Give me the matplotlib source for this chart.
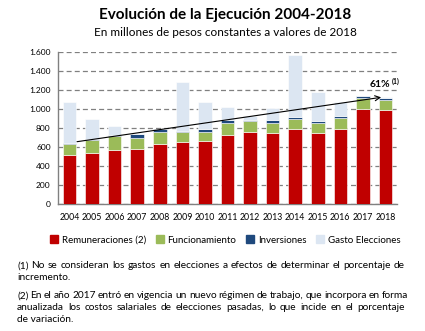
import matplotlib
matplotlib.use("Agg")
import matplotlib.pyplot as plt
import matplotlib.patches as mpatches
import numpy as np

plt.rcParams["font.family"] = ["Lato", "DejaVu Sans"]

years = ["2004", "2005", "2006", "2007", "2008", "2009", "2010", "2011",
         "2012", "2013", "2014", "2015", "2016", "2017", "2018"]
remuneraciones = [523, 544, 575, 586, 632, 656, 667, 733, 765, 747, 796, 754, 789, 1007, 989]
funcionamiento = [112, 130, 141, 112, 126, 102, 98, 127, 109, 113, 106, 102, 116, 109, 109]
inversiones = [15, 14, 17, 39, 35, 14, 24, 24, 14, 24, 21, 25, 25, 24, 18]
gasto_elecciones = [431, 207, 88, 17, 0, 519, 292, 141, 40, 134, 649, 305, 144, 0, 10]

series = [
    ("Remuneraciones (2)", remuneraciones, "#C00000"),
    ("Funcionamiento", funcionamiento, "#9BBB59"),
    ("Inversiones", inversiones, "#1F497D"),
    ("Gasto Elecciones", gasto_elecciones, "#DCE6F2"),
]

# trend arrow: start/end (x position, value)
trend_start = (0.33, 659)
trend_end = (13.81, 1126)
trend_label = "61%"

notes = [
    ("(1)  No se consideran los gastos en elecciones a efectos de determinar el porcentaje de", True),
    ("incremento.", False),
    ("(2)  En el año 2017 entró en vigencia un nuevo régimen de trabajo, que incorpora en forma", True),
    ("anualizada los costos salariales de elecciones pasadas, lo que incide en el porcentaje", True),
    ("de variación.", False),
]
note_rows = [266, 278, 296, 308, 320]
NOTE_SIZE = 7.3

W, H = 425, 331
fig = plt.figure(figsize=(W / 100, H / 100), dpi=100)
ax = fig.add_axes([58.3 / W, 1 - 204.3 / H, (396.7 - 58.3) / W, (204.3 - 52.3) / H])

x = np.arange(len(years))
bottom = np.zeros(len(years))
for name, vals, color in series:
    ax.bar(x, vals, width=0.6, bottom=bottom, color=color, edgecolor="white",
           linewidth=0.4, zorder=3)
    bottom += np.array(vals)

ax.set_xlim(-0.5, len(years) - 0.5)
ax.set_ylim(0, 1600)
ax.set_yticks(range(0, 1601, 200))
ax.set_yticklabels([f"{v:,}".replace(",", ".") for v in range(0, 1601, 200)], fontsize=6)
ax.set_xticks(x)
ax.set_xticklabels(years, fontsize=6.3)
ax.tick_params(axis="both", length=0)
ax.tick_params(axis="y", pad=5.5)
ax.tick_params(axis="x", pad=6.5)
ax.grid(axis="y", color="#808080", linestyle=(0, (4, 2.5)), linewidth=0.9, zorder=0)
for side in ("top", "right"):
    ax.spines[side].set_visible(False)
for side in ("left", "bottom"):
    ax.spines[side].set_color("#808080")
    ax.spines[side].set_linewidth(1.0)

ax.annotate("", xy=trend_end, xytext=trend_start,
            arrowprops=dict(arrowstyle="->", color="black", lw=0.8,
                            shrinkA=0, shrinkB=0, mutation_scale=9), zorder=5)
ax.text(14.22, 1256, trend_label, fontsize=7.5, fontweight="bold", ha="right", va="center")
ax.text(14.3, 1290, "(1)", fontsize=5, fontweight="bold", ha="left", va="center")

fig.text(0.53, 1 - 15 / H, "Evolución de la Ejecución 2004-2018", fontsize=11,
         fontweight="bold", ha="center", va="center")
fig.text(0.53, 1 - 33 / H, "En millones de pesos constantes a valores de 2018",
         fontsize=8.5, ha="center", va="center")

handles = [mpatches.Patch(color=c, label=n) for n, _, c in series]
fig.legend(handles=handles, loc="center", bbox_to_anchor=(0.53, 1 - 240 / H), ncol=4,
           frameon=False, fontsize=7, handlelength=0.8, handleheight=0.8,
           handletextpad=0.4, columnspacing=1.0)

# justified footnotes, word by word
renderer = fig.canvas.get_renderer()
x0, x1 = 17, 405
for (line, justify), row in zip(notes, note_rows):
    yf = 1 - row / H
    if not justify:
        fig.text(x0 / W, yf, line, fontsize=NOTE_SIZE, ha="left", va="center")
        continue
    words = line.split()
    objs = [fig.text(0, yf, w, fontsize=NOTE_SIZE, ha="left", va="center") for w in words]
    widths = [t.get_window_extent(renderer).width for t in objs]
    gap = max((x1 - x0 - sum(widths)) / (len(words) - 1), 2)
    pos = x0
    for t, w in zip(objs, widths):
        t.set_x(pos / W)
        pos += w + gap

fig.savefig("out.png", dpi=100)
